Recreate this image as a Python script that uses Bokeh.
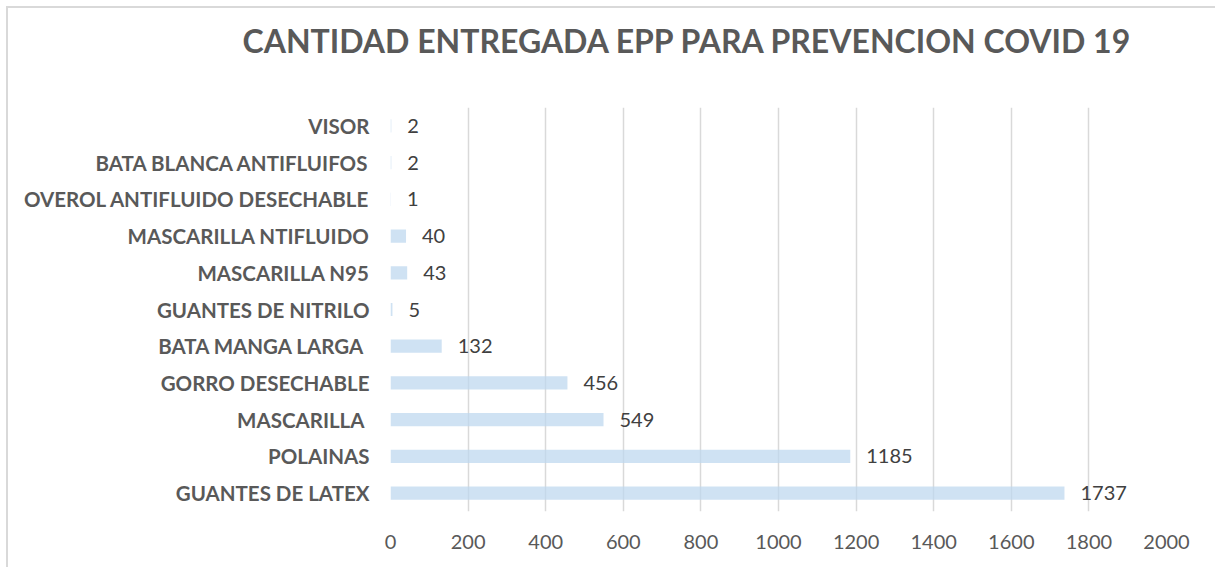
from bokeh.plotting import figure
from bokeh.models import ColumnDataSource, LabelSet, FactorRange, Title
from bokeh.core.properties import value
from bokeh.embed import file_html
from bokeh.resources import INLINE

# Data (top to bottom as shown)
categories = [
    "VISOR",
    "BATA BLANCA ANTIFLUIFOS",
    "OVEROL ANTIFLUIDO DESECHABLE",
    "MASCARILLA NTIFLUIDO",
    "MASCARILLA N95",
    "GUANTES DE NITRILO",
    "BATA MANGA  LARGA",
    "GORRO DESECHABLE",
    "MASCARILLA ",
    "POLAINAS",
    "GUANTES DE LATEX",
]
values = [2, 2, 1, 40, 43, 5, 132, 456, 549, 1185, 1737]
x_ticks = [0, 200, 400, 600, 800, 1000, 1200, 1400, 1600, 1800, 2000]
title_text = "CANTIDAD ENTREGADA EPP PARA PREVENCION COVID 19"

FONT = "Lato"

src = ColumnDataSource(data=dict(
    cat=categories,
    val=values,
    lbl=[str(v) for v in values],
))

p = figure(
    y_range=FactorRange(factors=list(reversed(categories))),
    x_range=(0, 2000),
    frame_width=776, frame_height=404,
    min_border_left=382, min_border_right=49,
    min_border_top=99, min_border_bottom=56,
    output_backend="svg", toolbar_location=None,
    title=None,
)
p.styles = {"margin": "6px 0 0 6px",
            "border-top": "2px solid #d9d9d9", "border-left": "2px solid #d9d9d9"}

# spacer between frame and title (closest to the frame)
spacer = Title(text=" ", text_font=FONT, text_font_size="32px", standoff=7)
p.add_layout(spacer, "above")

t = Title(text=title_text, align="left", offset=-148,
          text_font=FONT, text_font_size="32px", text_font_style="bold",
          text_color="#595959", standoff=0)
p.add_layout(t, "above")

p.hbar(y="cat", right="val", left=0, height=0.36, source=src,
       fill_color="#BDD7EE", fill_alpha=0.72, line_color=None)

labels = LabelSet(x="val", y="cat", text="lbl", source=src,
                  x_offset=16, y_offset=0,
                  text_font=value(FONT), text_font_size=value("20px"),
                  text_color="#404040", text_baseline="middle", text_align="left")
p.add_layout(labels)

p.xaxis.ticker = x_ticks
p.xaxis.axis_line_color = None
p.xaxis.major_tick_line_color = None
p.xaxis.minor_tick_line_color = None
p.xaxis.major_label_text_font = FONT
p.xaxis.major_label_text_font_size = "20px"
p.xaxis.major_label_text_color = "#595959"
p.xaxis.major_label_standoff = 17

p.yaxis.axis_line_color = None
p.yaxis.major_tick_line_color = None
p.yaxis.minor_tick_line_color = None
p.yaxis.major_label_text_font = FONT
p.yaxis.major_label_text_font_size = "20.5px"
p.yaxis.major_label_text_font_style = "bold"
p.yaxis.major_label_text_color = "#595959"
p.yaxis.major_label_standoff = 15

p.xgrid.ticker = x_ticks
p.xgrid.grid_line_color = "#d9d9d9"
p.xgrid.grid_line_width = 1.5
p.ygrid.grid_line_color = None
p.outline_line_color = None
p.background_fill_color = "white"
p.border_fill_color = "white"
p.y_range.range_padding = 0

open("out.html", "w").write(file_html(p, INLINE))
